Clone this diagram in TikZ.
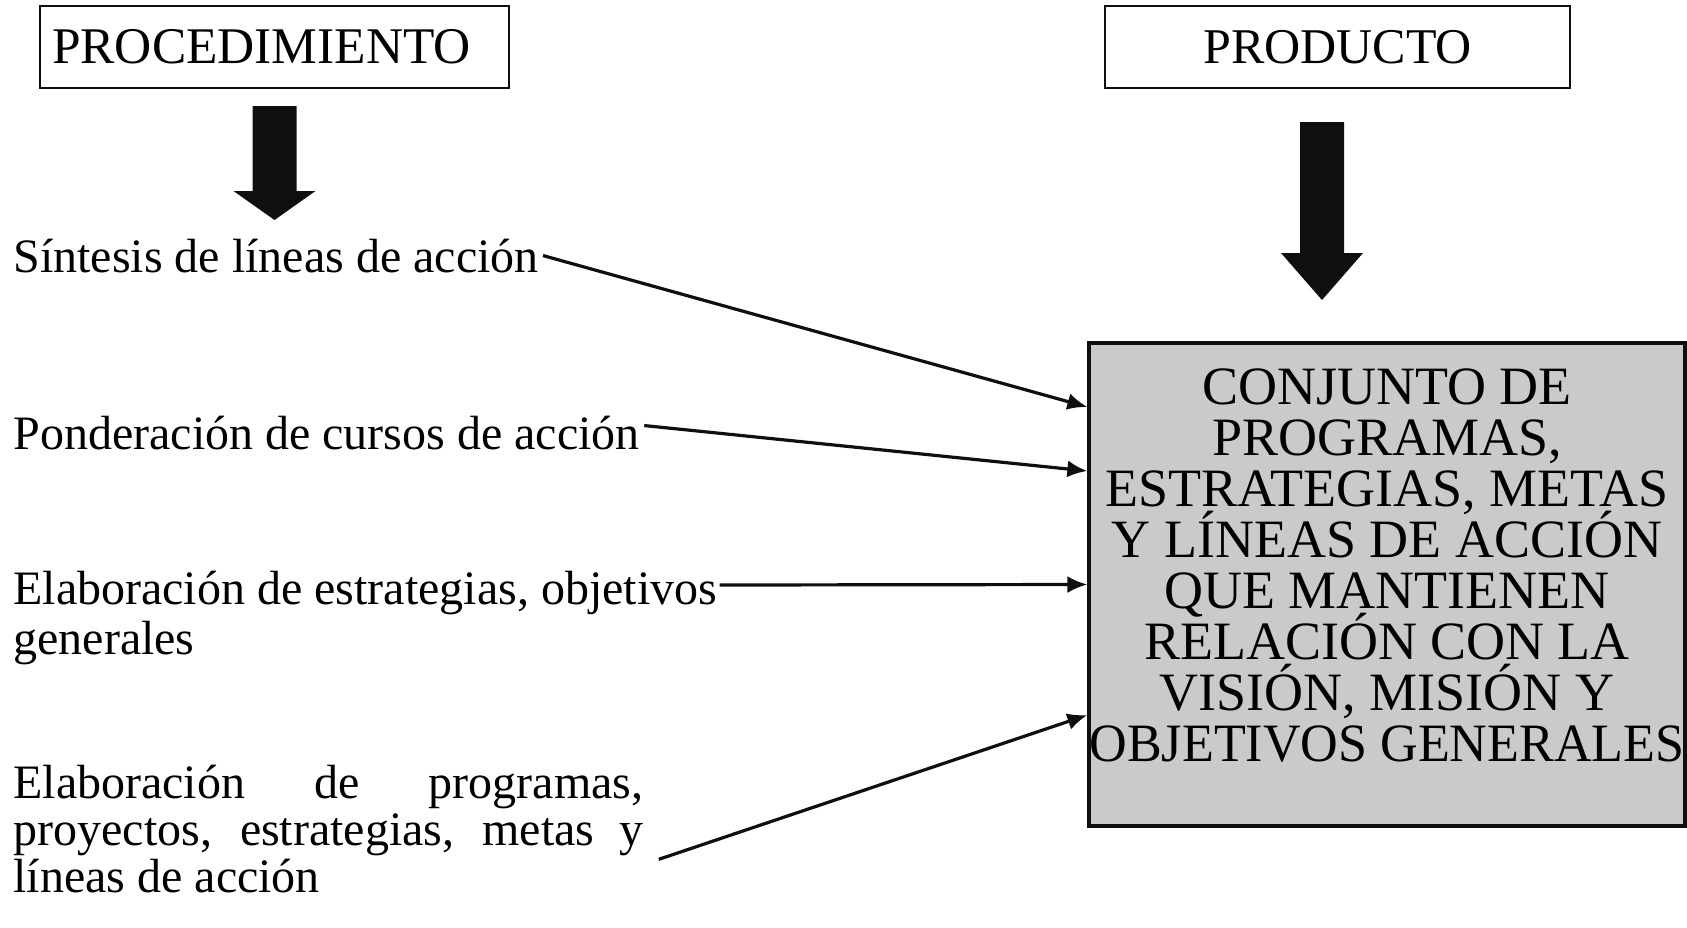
\documentclass[tikz,border=0pt]{standalone}
\usepackage{fontspec}
\setmainfont{Liberation Serif}
\usetikzlibrary{arrows.meta,calc,positioning}
\definecolor{boxgray}{RGB}{202,202,202}
\definecolor{ink}{RGB}{15,15,15}

\begin{document}
\begin{tikzpicture}[x=0.5pt,y=-0.5pt,>={Latex[length=10pt,width=8.5pt]},
  headbox/.style={draw=ink,line width=1pt,inner sep=0pt,minimum height=41pt,font=\fontsize{25}{25}\selectfont},
  item/.style={inner sep=0pt,align=left,font=\fontsize{24}{25}\selectfont},
  conn/.style={->,ink,line width=1.6pt}]
  \useasboundingbox (0,0) rectangle (1687,927);

  % column heads
  \node[headbox,minimum width=234.5pt,font=\fontsize{25.7}{25.7}\selectfont] (proc) at (274.5,47) {\hspace*{-13pt}PROCEDIMIENTO};
  \node[headbox,minimum width=232.5pt] (prod) at (1337.5,47) {PRODUCTO};

  % block arrows under the heads
  \fill[ink] ($(proc.south)+(-22,17)$) -- ++(44,0) -- ++(0,85) -- ++(19,0) -- ++(-41,29) -- ++(-41,-29) -- ++(19,0) -- cycle;
  \fill[ink] ($(prod.south)+(-37.5,33)$) -- ++(44,0) -- ++(0,131) -- ++(19,0) -- ++(-41,47) -- ++(-41,-47) -- ++(19,0) -- cycle;

  % product box
  \node[draw=ink,line width=1.6pt,fill=boxgray,minimum width=298pt,minimum height=241.5pt,inner sep=0pt] (meta) at (1387,584.5) {};
  \node[align=center,inner sep=0pt,font={\fontsize{27}{25.5}\selectfont\lineskiplimit=-40pt\lineskip=0pt}] (metatxt) at ($(meta.center)+(0,-19)$)
    {CONJUNTO DE\\PROGRAMAS,\\ESTRATEGIAS, METAS\\Y LÍNEAS DE ACCIÓN\\QUE MANTIENEN\\RELACIÓN CON LA\\VISIÓN, MISIÓN Y\\\scalebox{0.965}[1]{OBJETIVOS GENERALES}};

  % steps of the procedure
  \node[item,anchor=base west] (sint) at (13,272) {Síntesis de líneas de acción};
  \node[item,anchor=base west] (pond) at (13,449) {Ponderación de cursos de acción};
  \node[item,anchor=north west] (estr) at (13,571) {Elaboración de estrategias, objetivos\\generales};
  \node[item,anchor=north west,font=\fontsize{24}{23.5}\selectfont] (prog) at (13,765)
    {\makebox[315pt][s]{Elaboración de programas,}\\\makebox[315pt][s]{proyectos, estrategias, metas y}\\líneas de acción};

  \draw[conn] ([xshift=2pt]sint.east) -- ($(meta.west)+(0,-177.5)$);
  \draw[conn] ([xshift=2pt,yshift=3.5pt]pond.east) -- ($(meta.west)+(0,-113.5)$);
  \draw[conn] ($(estr.north east)+(2,14)$) -- (meta.west);
  \draw[conn] ($(prog.east)+(15,30)$) -- ($(meta.west)+(0,130.5)$);
\end{tikzpicture}
\end{document}
